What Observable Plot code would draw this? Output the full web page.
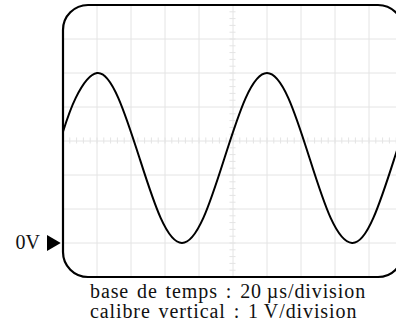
<!DOCTYPE html>
<html>
<head>
<meta charset="utf-8">
<script src="https://cdn.jsdelivr.net/npm/d3@7"></script>
<script src="https://cdn.jsdelivr.net/npm/@observablehq/plot@0.6"></script>
<style>
  html, body { margin: 0; padding: 0; background: white; overflow: hidden; }
  #caption {
    margin-left: 90px;
    font-family: "Liberation Serif", serif;
    font-size: 20px;
    line-height: 19.5px;
    letter-spacing: 0.9px;
    word-spacing: 2px;
    color: #111;
    white-space: pre;
  }
</style>
</head>
<body>
<div id="chart"></div>
<div id="caption"></div>
<script>
// Oscilloscope trace: time in µs, voltage in V
const times = [0, 7.5, 20, 32.5, 45, 57.5, 70, 82.5, 95, 107.5, 120, 132.5, 145, 157.5, 170, 182.5, 195, 200];
const volts = [3.27, 4.27, 5, 4.27, 2.5, 0.73, 0, 0.73, 2.5, 4.27, 5, 4.27, 2.5, 0.73, 0, 0.73, 2.5, 3.27];

// Screen graticule: interior lines of the 10 × 8 divisions (20 µs, 1 V each)
const timeDivisions = [20, 40, 60, 80, 100, 120, 140, 160, 180];
const voltDivisions = [0, 1, 2, 3, 4, 5, 6];
// Sub-division marks along the central axes (5 per division)
const timeSubdivisions = d3.range(4, 200, 4);
const voltSubdivisions = d3.range(-0.8, 6.9, 0.2);
const centerTime = 100;
const centerVolt = 3;

// Ground reference marker
const groundLevel = [0];

const captionLines = [
  "base de temps : 20\u2009µs/division",
  "calibre vertical : 1\u2009V/division"
];

const trace = times.map((t, i) => ({t, v: volts[i]}));

const gridColor = "#e4e4e4";
const serif = "Liberation Serif, serif";

const chart = Plot.plot({
  width: 396,
  height: 282,
  marginLeft: 62.5,
  marginRight: -6.5,
  marginTop: 4.5,
  marginBottom: 5.5,
  x: {domain: [0, 200], axis: null},
  y: {domain: [-1, 7], axis: null},
  marks: [
    Plot.ruleX(timeDivisions, {x: d => d, stroke: gridColor, strokeWidth: 1}),
    Plot.ruleY(voltDivisions, {y: d => d, stroke: gridColor, strokeWidth: 1}),
    Plot.ruleX(timeSubdivisions, {x: d => d, y1: centerVolt - 0.09, y2: centerVolt + 0.09, stroke: gridColor, strokeWidth: 1}),
    Plot.ruleY(voltSubdivisions, {y: d => d, x1: centerTime - 1.8, x2: centerTime + 1.8, stroke: gridColor, strokeWidth: 1}),
    Plot.line(trace, {x: "t", y: "v", curve: "natural", stroke: "black", strokeWidth: 2}),
    Plot.frame({stroke: "black", strokeWidth: 2.2, rx: 25, ry: 25}),
    Plot.dot(groundLevel, {y: d => d, frameAnchor: "left", symbol: "triangle", rotate: 90, r: 5.9, fill: "black", stroke: "none", dx: -11.4}),
    Plot.text(groundLevel, {y: d => d, frameAnchor: "left", text: () => "0V", textAnchor: "end", dx: -23, fontSize: 20, fontFamily: serif, fill: "#111"})
  ]
});

document.getElementById("chart").appendChild(chart);
document.getElementById("caption").textContent = captionLines.join("\n");
</script>
</body>
</html>
